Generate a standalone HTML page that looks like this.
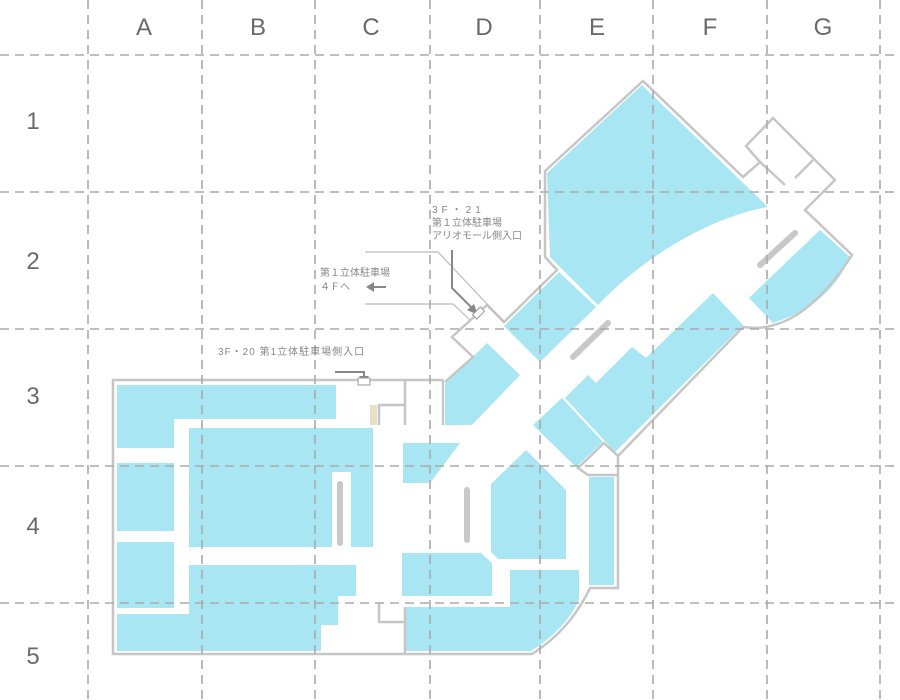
<!DOCTYPE html>
<html><head><meta charset="utf-8"><style>
html,body{margin:0;padding:0;background:#fff;}
svg{display:block;}
text{font-family:"Liberation Sans","Noto Sans CJK JP",sans-serif;}
</style></head><body>
<svg width="900" height="700" viewBox="0 0 900 700" xmlns="http://www.w3.org/2000/svg">
<g fill="#a8e6f3" stroke="none">
<polygon points="117,385 336,385 336,419 174,419 174,448 117,448"/>
<rect x="117" y="463" width="57" height="68"/>
<rect x="117" y="542" width="57" height="66"/>
<polygon points="189,428 373,428 373,547 351,547 351,472 332,472 332,547 189,547"/>
<polygon points="189,565 356,565 356,596 338,596 338,625 321,625 321,651 117,651 117,614 189,614"/>
<polygon points="403,443 460,443 430,483 403,483"/>
<polygon points="402,553 481,553 492,563 492,596 402,596"/>
<path d="M405,607 L510,607 L510,570 L579,570 L579,600 Q565,630 531,651 L405,651 Z"/>
<polygon points="491,484 526,450 566,490 566,559 498,559 491,552"/>
<rect x="589" y="477" width="25" height="108"/>
<polygon points="445,384 487,343 520,375 472,425 445,425"/>
<polygon points="533,425 562,398 603,442 576,467"/>
<polygon points="565,398 588,375 596,383 632,347 646,358 713,293 743,325 615,452"/>
<polygon points="504,326 559,272 596,307 540,362"/>
<path d="M547,173 L642,85 L768,207 C720,215 650,250 598,305 L550,257 Z"/>
<path d="M820,230 L850,257 Q830,305 773,323 L749,298 Z"/>
</g>
<rect x="370" y="405" width="7" height="20" fill="#e8e0c4"/>
<g stroke="#c8c8c8" stroke-width="6" stroke-linecap="round">
<line x1="340" y1="484" x2="340" y2="543"/>
<line x1="467" y1="490" x2="467" y2="540"/>
<line x1="573" y1="357" x2="608" y2="323"/>
<line x1="760" y1="265" x2="795" y2="233"/>
</g>
<g fill="none" stroke="#c6c6c6" stroke-width="2.5" stroke-linejoin="miter">
<path d="M443,380 L113,380 L113,654 L532,654 Q570,630 590,588 L618,588 L618,456 L743,327 Q800,336 852,255 L805,210 L835,180 L773,118 L746,146 L760,162 L743,177 L643,81 L545,171 L545,257 L557,270 L504,322 L487,305 L452,337 L473,357 L445,382"/>
<path d="M618,456 L604,443 L578,468 L588,475 L618,475"/>
<path d="M760,162 L785,185 M795,178 L813,160"/>
<path d="M405,380 L405,425 M379,425 L379,405 L405,405"/>
<path d="M405,607 L405,654 M379,603 L379,622 L405,622"/>
<path d="M443,380 L443,425"/>
</g>
<g fill="none" stroke="#bbb" stroke-width="1.2">
<path d="M365,252 L438,252 L504,322"/>
<path d="M365,304 L453,304 L470,320"/>
</g>
<g stroke="#aaa" stroke-width="1.6" stroke-dasharray="9,6" fill="none">
<line x1="88" y1="0" x2="88" y2="700"/>
<line x1="202" y1="0" x2="202" y2="700"/>
<line x1="315" y1="0" x2="315" y2="700"/>
<line x1="430" y1="0" x2="430" y2="700"/>
<line x1="540" y1="0" x2="540" y2="700"/>
<line x1="653" y1="0" x2="653" y2="700"/>
<line x1="767" y1="0" x2="767" y2="700"/>
<line x1="880" y1="0" x2="880" y2="700"/>
<line x1="0" y1="55" x2="900" y2="55"/>
<line x1="0" y1="192" x2="900" y2="192"/>
<line x1="0" y1="329" x2="900" y2="329"/>
<line x1="0" y1="466" x2="900" y2="466"/>
<line x1="0" y1="603" x2="900" y2="603"/>
</g>
<g fill="none" stroke="#888" stroke-width="2">
<path d="M335,372 L364,372 L364,378"/>
<path d="M452,250 L452,288 L472,308"/>
<line x1="372" y1="287" x2="386" y2="287"/>
</g>
<g fill="#888">
<polygon points="359,376 369,376 364,383"/>
<polygon points="467,310 478,315 474,304"/>
<polygon points="366,287 374,282 374,292"/>
</g>
<rect x="358" y="378" width="12" height="7" fill="#fff" stroke="#999" stroke-width="1"/>
<rect x="473" y="310" width="11" height="6" fill="#fff" stroke="#999" stroke-width="1" transform="rotate(-45 478.5 313)"/>
<g fill="#888" font-size="10">
<text x="218" y="355" letter-spacing="1">3F・20 第1立体駐車場側入口</text>
<text x="432" y="213" letter-spacing="4">3F・21</text>
<text x="432" y="226">第１立体駐車場</text>
<text x="432" y="239">アリオモール側入口</text>
<text x="320" y="276">第１立体駐車場</text>
<text x="320" y="290">４Ｆへ</text>
</g>
<g fill="#6a6a6a" font-size="24" text-anchor="middle">
<text x="144" y="35">A</text>
<text x="258" y="35">B</text>
<text x="371" y="35">C</text>
<text x="484" y="35">D</text>
<text x="597" y="35">E</text>
<text x="710" y="35">F</text>
<text x="823" y="35">G</text>
<text x="33" y="129">1</text>
<text x="33" y="269">2</text>
<text x="33" y="404">3</text>
<text x="33" y="534">4</text>
<text x="33" y="664">5</text>
</g>
</svg>
</body></html>
